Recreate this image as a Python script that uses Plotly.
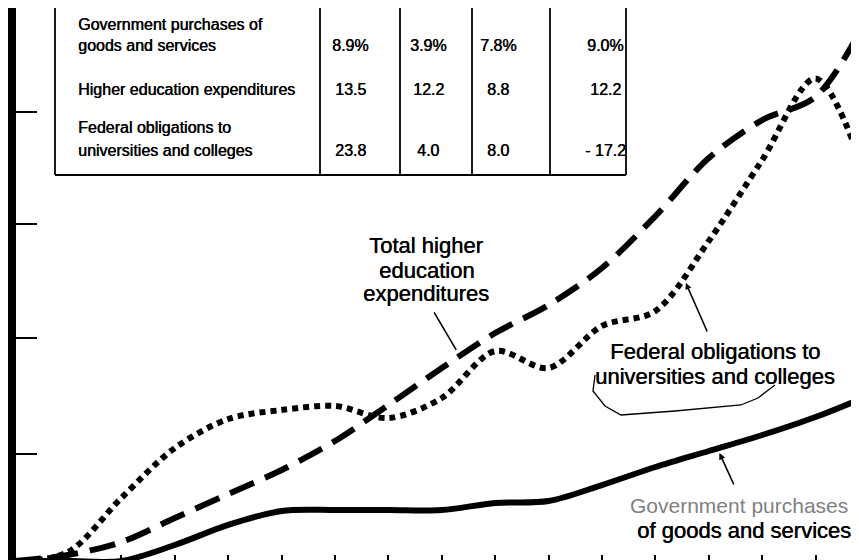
import plotly.graph_objects as go

# one tick per year along the bottom (no labels printed in the source)
years = list(range(1960, 1977))

# index values (0 = bottom edge of the plot)
gov_purchases = [2.8, 2.8, 2.8, 17.8, 36.6, 49.7, 50.6, 50.6, 50.6, 57.2, 59.0, 74.0, 90.9, 105.9, 120.9, 137.8, 158.0]
higher_ed = [2.8, 8.4, 20.6, 43.1, 65.6, 88.1, 115.3, 149.0, 183.7, 216.5, 242.7, 277.4, 326.1, 380.5, 416.1, 438.0, 515.0]
federal = [1.9, 11.2, 61.9, 108.7, 135.9, 144.3, 148.1, 136.8, 155.6, 199.6, 183.7, 223.1, 237.1, 302.7, 378.6, 455.0, 355.0]

y_ticks = [103, 212, 319, 424]

# growth-rate table in the upper left
row_labels = [["Government purchases of", "goods and services"],
              ["Higher education expenditures"],
              ["Federal obligations to", "universities and colleges"]]
gov_rates = ["8.9%", "3.9%", "7.8%", "9.0%"]
higher_ed_rates = ["13.5", "12.2", "8.8", "12.2"]
federal_rates = ["23.8", "4.0", "8.0", "- 17.2"]

W, H, PLOT_H = 859, 560, 556
FONT = "Liberation Sans, Arial, sans-serif"
INK = "0.5px 0px 0px black"


def px(x):
    return x / W


def py(y):
    return 1 - y / PLOT_H


fig = go.Figure()
fig.add_trace(go.Scatter(x=years, y=federal, mode="lines",
                         line=dict(color="black", width=6, dash="6px,5px", shape="spline", smoothing=0.9)))
fig.add_trace(go.Scatter(x=years, y=higher_ed, mode="lines",
                         line=dict(color="black", width=6, dash="26px,12px", shape="spline", smoothing=0.9)))
fig.add_trace(go.Scatter(x=years, y=gov_purchases, mode="lines", yaxis="y2",
                         line=dict(color="black", width=6, shape="spline", smoothing=0.9)))

# table frame, top edge runs off the page
col_lines = [47, 312, 392, 464, 542, 618]
TABLE_BOTTOM = 167

shapes = []
for cx in col_lines:
    shapes.append(dict(type="line", xref="paper", yref="paper",
                       x0=px(cx), x1=px(cx), y0=py(TABLE_BOTTOM), y1=1.02,
                       line=dict(color="black", width=1.8)))
shapes.append(dict(type="line", xref="paper", yref="paper",
                   x0=px(47), x1=px(618), y0=py(TABLE_BOTTOM), y1=py(TABLE_BOTTOM),
                   line=dict(color="black", width=1.8)))

# pen scribble under the federal label
pts = [(587, 367), (585, 383), (597, 398), (613, 407), (667, 403), (733, 397), (750, 390), (763, 380), (767, 377)]
path = "M " + " L ".join(f"{px(a):.4f},{py(b):.4f}" for a, b in pts)
shapes.append(dict(type="path", xref="paper", yref="paper", path=path,
                   line=dict(color="black", width=1.3)))

annotations = []


def text_at(x, y, s, font, anchor="center"):
    annotations.append(dict(xref="paper", yref="paper", x=px(x), y=py(y), text=s,
                            showarrow=False, xanchor=anchor, yanchor="middle", font=font))


tfont = dict(family=FONT, size=16, color="black", shadow=INK)
label_y = [[16, 37], [82], [119, 143]]
for lines, ys in zip(row_labels, label_y):
    for s, ly in zip(lines, ys):
        text_at(68, ly, s, tfont, "left")
col_x = [342, 420, 490, 597]
value_y = [37, 82, 143]
for rates, vy in zip([gov_rates, higher_ed_rates, federal_rates], value_y):
    for val, cx in zip(rates, col_x):
        text_at(cx, vy, val, tfont)

lfont = dict(family=FONT, size=22, color="black", shadow=INK)
text_at(418, 237, "Total higher", lfont)
text_at(418, 262, "education", lfont)
text_at(418, 285, "expenditures", lfont)
text_at(707, 343, "Federal obligations to", lfont)
text_at(707, 368, "universities and colleges", lfont)
text_at(731, 497, "Government purchases", dict(family=FONT, size=21, color="#808080"))
text_at(736, 522, "of goods and services", lfont)

# leader lines from labels to curves
annotations.append(dict(x=1968.27, y=200.6, xref="x", yref="y", text="", showarrow=True,
                        ax=-23, ay=-39, arrowhead=0, arrowwidth=1.6, arrowcolor="black"))
annotations.append(dict(x=1972.57, y=263.4, xref="x", yref="y", text="", showarrow=True,
                        ax=22, ay=50, arrowhead=2, arrowsize=0.8, arrowwidth=1.6, arrowcolor="black"))
annotations.append(dict(x=1973.2, y=104.0, xref="x", yref="y", text="", showarrow=True,
                        ax=15, ay=33, arrowhead=2, arrowsize=0.8, arrowwidth=1.6, arrowcolor="black"))

x0 = 1960 - 6.6 / 53.4
x1 = 1960 + (W - 6.6) / 53.4
y_range = [0, PLOT_H / 1.067]

fig.update_layout(
    width=W, height=H,
    margin=dict(l=0, r=0, t=0, b=H - PLOT_H),
    paper_bgcolor="white", plot_bgcolor="white",
    showlegend=False,
    shapes=shapes,
    annotations=annotations,
    xaxis=dict(range=[x0, x1], showgrid=False, zeroline=False, showline=False,
               ticks="inside", tickvals=years, ticklen=9, tickwidth=2, tickcolor="black",
               showticklabels=False),
    yaxis=dict(range=y_range, anchor="free", position=0.0047, showgrid=False, zeroline=False,
               showline=True, linewidth=8, linecolor="black",
               ticks="inside", tickvals=y_ticks, ticklen=21, tickwidth=2, tickcolor="black",
               showticklabels=False),
    yaxis2=dict(range=y_range, overlaying="y", side="right", anchor="free", position=1,
                showgrid=False, zeroline=False, showline=False,
                ticks="inside", tickvals=y_ticks, ticklen=10, tickwidth=2, tickcolor="black",
                showticklabels=False),
)

fig.write_html("out.html")
